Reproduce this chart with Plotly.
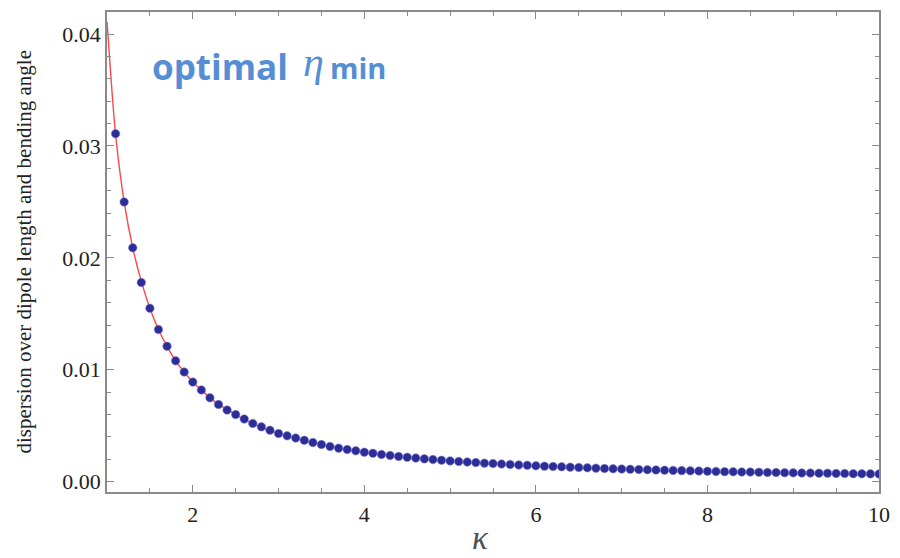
import plotly.graph_objects as go

# Optimal dispersion (scaled by dipole length and bending angle) vs kappa
kappa = [round(1.1 + 0.1 * i, 1) for i in range(90)]
eta_min = [
    0.0311, 0.0250, 0.0209, 0.0178, 0.0155, 0.0136, 0.0121, 0.0108, 0.0098, 0.0089,
    0.0082, 0.0075, 0.0069, 0.0064, 0.0060, 0.0056, 0.0052, 0.0049, 0.0046, 0.0043,
    0.00410, 0.00390, 0.00370, 0.00350, 0.00332, 0.00315, 0.00300, 0.00288, 0.00276, 0.00264,
    0.00254, 0.00244, 0.00235, 0.00226, 0.00218, 0.00211, 0.00204, 0.00198, 0.00192, 0.00186,
    0.00181, 0.00176, 0.00171, 0.00166, 0.00162, 0.00158, 0.00154, 0.00150, 0.00146, 0.00142,
    0.00139, 0.00136, 0.00133, 0.00130, 0.00127, 0.00124, 0.00121, 0.00118, 0.00116, 0.00113,
    0.00111, 0.00109, 0.00107, 0.00105, 0.00103, 0.00101, 0.00099, 0.00097, 0.00095, 0.00093,
    0.00092, 0.00090, 0.00089, 0.00087, 0.00086, 0.00084, 0.00083, 0.00082, 0.00081, 0.00079,
    0.00078, 0.00077, 0.00076, 0.00075, 0.00074, 0.00073, 0.00072, 0.00071, 0.00070, 0.00069,
]

# Fitted curve
fit_kappa = [1.0, 1.05, 1.1, 1.2, 1.3, 1.4, 1.5, 1.6, 1.7, 1.8, 1.9, 2.0,
             2.25, 2.5, 2.75, 3.0, 3.5, 4.0, 4.5, 5.0, 6.0, 7.0, 8.0, 9.0, 10.0]
fit_eta = [0.0411, 0.0357, 0.0310, 0.0250, 0.0209, 0.0179, 0.0155, 0.0136, 0.0121,
           0.0108, 0.0098, 0.0089, 0.0072, 0.0060, 0.0050, 0.0043, 0.0033, 0.00263,
           0.00215, 0.00182, 0.00138, 0.00107, 0.00086, 0.00071, 0.00060]

x_ticks = [2, 4, 6, 8, 10]
x_tick_text = ["2", "4", "6", "8", "10"]
y_ticks = [0.0, 0.01, 0.02, 0.03, 0.04]
y_tick_text = ["0.00", "0.01", "0.02", "0.03", "0.04"]

SERIF = "Liberation Serif, Times New Roman, serif"
TITLE_BLUE = "rgb(85,142,213)"

fig = go.Figure()
fig.add_trace(go.Scatter(
    x=fit_kappa, y=fit_eta, mode="lines",
    line=dict(color="rgb(255,70,70)", width=1.4, shape="spline", smoothing=0.6),
    hoverinfo="skip", showlegend=False,
))
fig.add_trace(go.Scatter(
    x=kappa, y=eta_min, mode="markers",
    marker=dict(size=8.5, color="rgb(45,45,150)",
                line=dict(color="rgba(130,130,220,0.55)", width=1)),
    showlegend=False,
))

axis_common = dict(
    showline=True, mirror="ticks", linecolor="#8a8a8a", linewidth=1.5,
    ticks="inside", ticklen=7, tickwidth=1.2, tickcolor="#8a8a8a",
    showgrid=False, zeroline=False,
    tickfont=dict(family=SERIF, size=22, color="#222"),
)

fig.update_xaxes(
    range=[1, 10], tickvals=x_ticks, ticktext=x_tick_text, ticklabelstandoff=2,
    minor=dict(dtick=0.5, ticks="inside", ticklen=4, tickcolor="#8a8a8a", tickwidth=1.2),
    **axis_common,
)
fig.update_yaxes(
    range=[-0.00092, 0.04197], tickvals=y_ticks, ticktext=y_tick_text,
    minor=dict(dtick=0.002, ticks="inside", ticklen=4, tickcolor="#8a8a8a", tickwidth=1.2),
    **axis_common,
)

fig.update_layout(
    width=900, height=558,
    margin=dict(l=107, r=14, t=10, b=66),
    paper_bgcolor="white", plot_bgcolor="white",
    annotations=[
        dict(
            text="dispersion over dipole length and bending angle",
            xref="paper", yref="paper", x=-0.108, y=0.5, textangle=-90,
            showarrow=False, xanchor="center", yanchor="middle",
            font=dict(family=SERIF, size=21, color="#222"),
        ),
        dict(
            text="<i>κ</i>", xref="paper", yref="paper", x=0.484, y=-0.095,
            showarrow=False, xanchor="center", yanchor="middle",
            font=dict(family=SERIF, size=33, color="#505050"),
        ),
        dict(
            text="<b>optimal</b>", xref="paper", yref="paper", x=0.056, y=0.886,
            showarrow=False, xanchor="left", yanchor="middle",
            font=dict(family="Open Sans, sans-serif", size=35, color=TITLE_BLUE),
        ),
        dict(
            text="<i>η</i>", xref="paper", yref="paper", x=0.251, y=0.895,
            showarrow=False, xanchor="left", yanchor="middle",
            font=dict(family=SERIF, size=42, color=TITLE_BLUE),
        ),
        dict(
            text="<b>min</b>", xref="paper", yref="paper", x=0.286, y=0.884,
            showarrow=False, xanchor="left", yanchor="middle",
            font=dict(family="Open Sans, sans-serif", size=29, color=TITLE_BLUE),
        ),
    ],
)

fig.write_html("out.html")
